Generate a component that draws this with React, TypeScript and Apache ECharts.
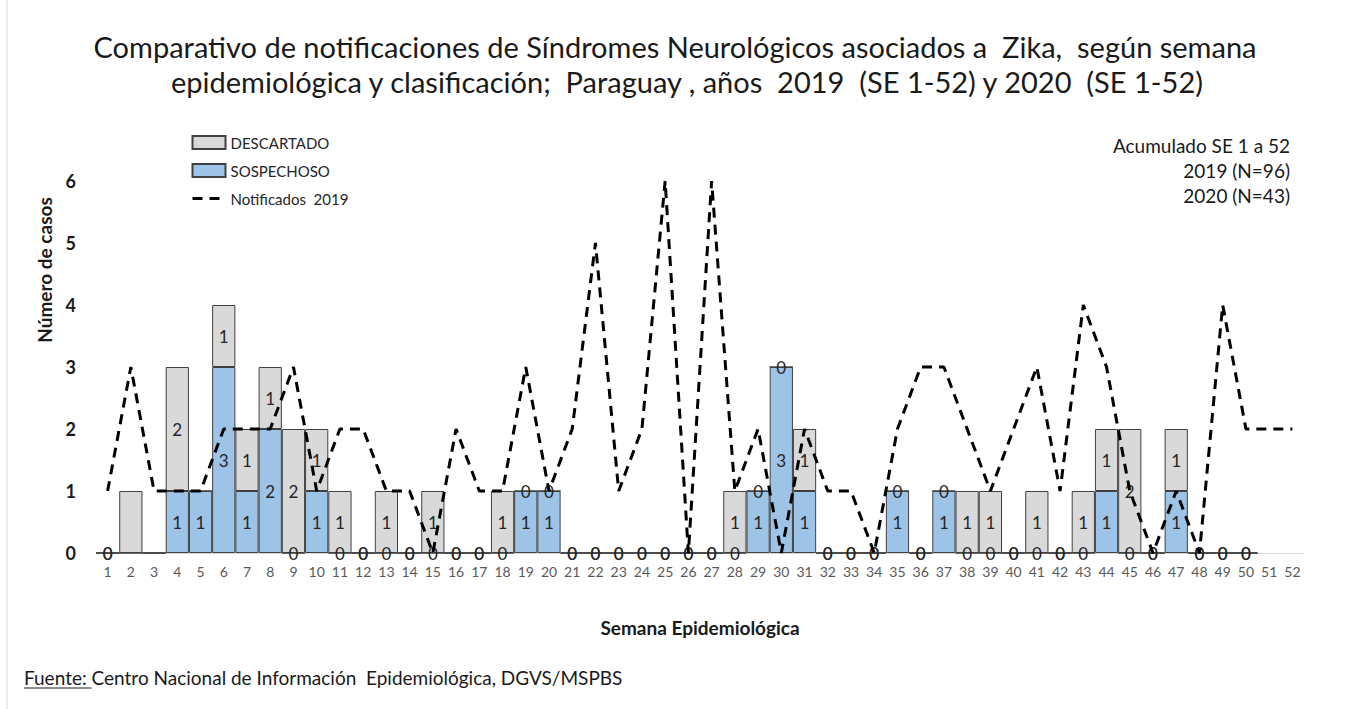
import React, { useEffect, useRef } from "react";
import * as echarts from "echarts";

const weeks: string[] = Array.from({ length: 52 }, (_, i) => String(i + 1));

// 2020 SOSPECHOSO (bottom of stack)
const sospechoso: (number | null)[] = [
  0, 0, 0, 1, 1, 3, 1, 2, 0, 1,
  0, 0, 0, 0, 0, 0, 0, 0, 1, 1,
  0, 0, 0, 0, 0, 0, 0, 0, 1, 3,
  1, 0, 0, 0, 1, 0, 1, 0, 0, 0,
  0, 0, 0, 1, 0, 0, 1, 0, 0, 0,
  null, null,
];

// 2020 DESCARTADO (top of stack)
const descartado: (number | null)[] = [
  0, 1, 0, 2, 0, 1, 1, 1, 2, 1,
  1, 0, 1, 0, 1, 0, 0, 1, 0, 0,
  0, 0, 0, 0, 0, 0, 0, 1, 0, 0,
  1, 0, 0, 0, 0, 0, 0, 1, 1, 0,
  1, 0, 1, 1, 2, 0, 1, 0, 0, 0,
  null, null,
];

// Notificados 2019
const notificados2019: number[] = [
  1, 3, 1, 1, 1, 2, 2, 2, 3, 1,
  2, 2, 1, 1, 0, 2, 1, 1, 3, 1,
  2, 5, 1, 2, 6, 0, 6, 1, 2, 0,
  2, 1, 1, 0, 2, 3, 3, 2, 1, 2,
  3, 1, 4, 3, 1, 0, 1, 0, 4, 2,
  2, 2,
];

// weeks whose bar labels are not shown in the original
const hiddenLabelWeeks: number[] = [2, 3, 51, 52];
const hiddenDescLabelWeeks: number[] = [5];

const yTicks: number[] = [0, 1, 2, 3, 4, 5, 6];

const titleLine1 =
  "Comparativo de notificaciones de Síndromes Neurológicos asociados a  Zika,  según semana";
const titleLine2 =
  "epidemiológica y clasificación;  Paraguay , años  2019  (SE 1-52) y 2020  (SE 1-52)";
const sourceLabel = "Fuente: ";
const sourceText = "Centro Nacional de Información  Epidemiológica, DGVS/MSPBS";
const notes: string[] = ["Acumulado SE 1 a 52", "2019 (N=96)", "2020 (N=43)"];

const FONT = "Lato, 'Noto Sans', sans-serif";

function measure(text: string, font: string): number {
  const c = document.createElement("canvas");
  const ctx = c.getContext("2d");
  if (!ctx) return text.length * 9;
  ctx.font = font;
  return ctx.measureText(text).width;
}

export default function App() {
  const ref = useRef<HTMLDivElement>(null);

  useEffect(() => {
    document.body.style.margin = "0";
    const chart = echarts.init(ref.current!, null, { renderer: "svg" });

    const labelBase = {
      show: true,
      position: "inside" as const,
      fontSize: 17,
      color: "#262626",
      fontFamily: FONT,
    };

    const sospData = sospechoso.map((v, i) => ({
      value: v,
      label: { show: v !== null && !hiddenLabelWeeks.includes(i + 1) },
    }));
    const descData = descartado.map((v, i) => ({
      value: v,
      label: {
        show:
          v !== null &&
          !hiddenLabelWeeks.includes(i + 1) &&
          !hiddenDescLabelWeeks.includes(i + 1),
      },
    }));

    const srcFont = 19;
    const fuenteW = measure(sourceLabel, `${srcFont}px Lato`);

    const textEl = (
      text: string,
      x: number,
      y: number,
      size: number,
      align: string,
      bold = false,
      rotation = 0
    ) => ({
      type: "text",
      x,
      y,
      rotation,
      style: {
        text,
        fontSize: size,
        fontWeight: bold ? "bold" : "normal",
        fontFamily: FONT,
        fill: "#1a1a1a",
        align,
        verticalAlign: "middle",
      },
    });

    chart.setOption({
      animation: false,
      backgroundColor: "#ffffff",
      textStyle: { fontFamily: FONT },
      legend: {
        orient: "vertical",
        left: 191,
        top: 135,
        padding: 0,
        itemWidth: 33,
        itemHeight: 13,
        itemGap: 13,
        textStyle: { fontSize: 15, color: "#262626", fontFamily: FONT },
        data: [
          { name: "DESCARTADO", icon: "rect" },
          { name: "SOSPECHOSO", icon: "rect" },
          {
            name: "Notificados  2019",
            itemStyle: { opacity: 0 },
            lineStyle: { width: 3, type: [10, 7], color: "#000000" },
          },
        ],
      },
      grid: { left: 96, right: 50, top: 181, bottom: 156, containLabel: false },
      xAxis: {
        type: "category",
        data: weeks,
        axisLine: { show: true, lineStyle: { color: "#d9d9d9", width: 1 } },
        axisTick: { show: false },
        axisLabel: {
          interval: 0,
          fontSize: 14,
          color: "#595959",
          margin: 11,
          fontFamily: FONT,
        },
      },
      yAxis: {
        type: "value",
        min: 0,
        max: yTicks[yTicks.length - 1],
        interval: 1,
        axisLine: { show: false },
        axisTick: { show: false },
        splitLine: { show: false },
        axisLabel: {
          fontSize: 18,
          fontWeight: "bold",
          color: "#1a1a1a",
          margin: 20,
          fontFamily: FONT,
        },
      },
      series: [
        {
          name: "SOSPECHOSO",
          type: "bar",
          stack: "2020",
          barCategoryGap: "0%",
          data: sospData,
          itemStyle: { color: "#9dc3e6", borderColor: "#404040", borderWidth: 1 },
          label: labelBase,
          z: 2,
        },
        {
          name: "DESCARTADO",
          type: "bar",
          stack: "2020",
          barCategoryGap: "0%",
          data: descData,
          itemStyle: { color: "#d9d9d9", borderColor: "#404040", borderWidth: 1 },
          label: labelBase,
          z: 2,
        },
        {
          name: "Notificados  2019",
          type: "line",
          data: notificados2019,
          showSymbol: false,
          symbol: "none",
          lineStyle: { color: "#000000", width: 3, type: [10, 7] },
          itemStyle: { color: "#000000" },
          z: 5,
        },
      ],
      graphic: [
        {
          type: "line",
          shape: { x1: 7, y1: 0, x2: 7, y2: 709 },
          style: { stroke: "#d9d9d9", lineWidth: 1 },
        },
        textEl(titleLine1, 675, 46, 29, "center"),
        textEl(titleLine2, 687, 81, 29, "center"),
        textEl("Número de casos", 44, 270, 19, "center", true, Math.PI / 2),
        textEl("Semana Epidemiológica", 700, 627, 19, "center", true),
        textEl(sourceLabel + sourceText, 24, 677, srcFont, "left"),
        {
          type: "line",
          shape: { x1: 24, y1: 688, x2: 24 + fuenteW, y2: 688 },
          style: { stroke: "#1a1a1a", lineWidth: 1 },
        },
        textEl(notes[0], 1290, 145, 19, "right"),
        textEl(notes[1], 1290, 170, 19, "right"),
        textEl(notes[2], 1290, 195, 19, "right"),
      ],
    });

    return () => chart.dispose();
  }, []);

  return (
    <div
      ref={ref}
      style={{ position: "fixed", left: 0, top: 0, width: 1354, height: 709 }}
    />
  );
}
